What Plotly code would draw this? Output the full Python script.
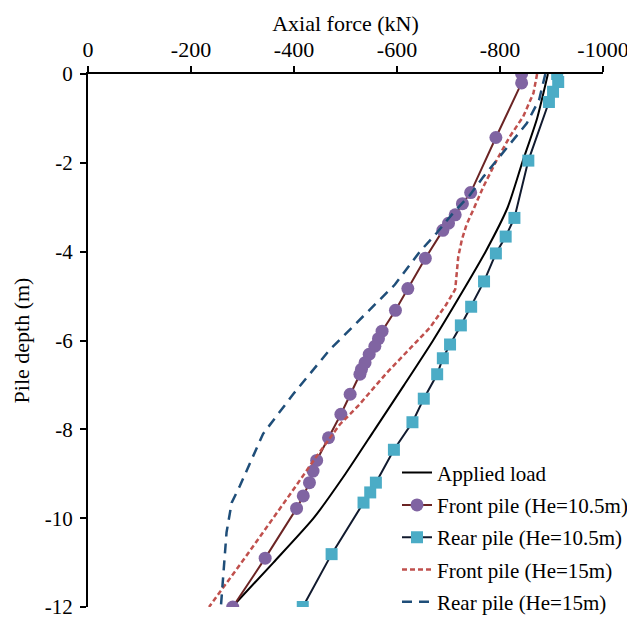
import plotly.graph_objects as go

# ---------------- data ----------------
applied_depth = [0, -1, -2, -3, -4, -5, -6, -7, -8, -9, -10, -11, -12]
applied_force = [-893, -872, -843, -815, -772, -722, -670, -614, -557, -500, -438, -360, -280]

front105_depth = [0, -0.2, -1.43, -2.67, -2.92, -3.17, -3.36, -3.52, -4.15, -4.83, -5.32, -5.79,
                  -5.96, -6.13, -6.31, -6.5, -6.65, -6.76, -7.21, -7.66, -8.19, -8.70, -8.94,
                  -9.20, -9.50, -9.78, -10.9, -12]
front105_force = [-842, -842, -792, -743, -727, -713, -700, -689, -655, -621, -597, -571,
                  -564, -557, -546, -538, -531, -528, -509, -491, -467, -444, -437,
                  -430, -418, -405, -344, -281]

rear105_depth = [0, -0.18, -0.4, -0.63, -1.95, -3.24, -3.66, -4.04, -4.67, -5.24, -5.66, -6.09,
                 -6.40, -6.76, -7.31, -7.84, -8.46, -9.20, -9.42, -9.65, -10.81, -12]
rear105_force = [-911, -913, -903, -895, -855, -828, -811, -792, -769, -744, -724, -703,
                 -689, -678, -652, -630, -594, -559, -548, -535, -473, -417]

front15_depth = [0, -0.43, -0.96, -1.41, -1.93, -2.53, -3.06, -3.39, -3.73, -4.11, -4.85, -5.2,
                 -5.71, -6.73, -7.48, -7.89, -8.67, -9.42, -10.92, -12]
front15_force = [-872, -865, -845, -819, -794, -768, -748, -735, -726, -719, -713, -695,
                 -664, -580, -524, -489, -440, -395, -303, -235]

rear15_depth = [0, -0.58, -1.11, -1.48, -1.86, -2.31, -2.72, -3.13, -3.58, -3.99, -4.74, -5.38,
                -6.2, -7.2, -8.1, -9.27, -9.65, -10.32, -11.74, -12]
rear15_force = [-888, -876, -852, -826, -800, -768, -742, -709, -677, -645, -596, -540,
                -470, -399, -340, -295, -279, -269, -260, -258]

x_tick_vals = [0, -200, -400, -600, -800, -1000]
x_tick_text = ["0", "-200", "-400", "-600", "-800", "-1000"]
y_tick_vals = [0, -2, -4, -6, -8, -10, -12]
y_tick_text = ["0", "-2", "-4", "-6", "-8", "-10", "-12"]

names = ["Applied load", "Front pile (He=10.5m)", "Rear pile (He=10.5m)",
         "Front pile (He=15m)", "Rear pile (He=15m)"]

FONT = "Liberation Serif, Times New Roman, serif"

fig = go.Figure()
fig.add_trace(go.Scatter(x=applied_force, y=applied_depth, mode="lines", name=names[0],
                         legendgroup="a", line=dict(color="#000000", width=2, shape="spline",
                                                    smoothing=0.6)))
fig.add_trace(go.Scatter(x=front105_force, y=front105_depth, mode="lines+markers", name=names[1],
                         legendgroup="b", line=dict(color="#6b2424", width=2),
                         marker=dict(symbol="circle", size=13, color="#8064A2")))
fig.add_trace(go.Scatter(x=rear105_force, y=rear105_depth, mode="lines+markers", name=names[2],
                         legendgroup="c", line=dict(color="#111a2e", width=2),
                         marker=dict(symbol="square", size=12, color="#4BACC6")))
fig.add_trace(go.Scatter(x=front15_force, y=front15_depth, mode="lines", name=names[3],
                         legendgroup="d", line=dict(color="#C0504D", width=2.5, dash="5px,3px")))
fig.add_trace(go.Scatter(x=rear15_force, y=rear15_depth, mode="lines", name=names[4],
                         legendgroup="e", line=dict(color="#1F4E79", width=2.5, dash="10px,7px")))

fig.update_layout(
    width=635, height=619,
    margin=dict(l=80, r=40, t=66, b=20, autoexpand=False),
    paper_bgcolor="white", plot_bgcolor="white",
    font=dict(family=FONT, size=22, color="#000000"),
    showlegend=True,
    legend=dict(x=0.60, y=0.29, xanchor="left", yanchor="top",
                bgcolor="rgba(0,0,0,0)", traceorder="grouped", tracegroupgap=2,
                font=dict(family=FONT, size=21, color="#000000")),
    xaxis=dict(range=[0, -1000], side="top", showgrid=False, zeroline=False,
               showline=True, linecolor="#000000", linewidth=2, automargin=False,
               ticks="outside", ticklen=6, tickwidth=1.5, tickcolor="#000000",
               ticklabelstandoff=0,
               tickvals=x_tick_vals, ticktext=x_tick_text,
               title=dict(text="Axial force (kN)", standoff=0,
                          font=dict(family=FONT, size=22))),
    yaxis=dict(range=[-12, 0], showgrid=False, zeroline=False,
               showline=True, linecolor="#000000", linewidth=2, automargin=False,
               ticks="outside", ticklen=6, tickwidth=1.5, tickcolor="#000000",
               ticklabelstandoff=3, tickfont=dict(family=FONT, size=21),
               tickvals=y_tick_vals, ticktext=y_tick_text,
               title=dict(text="Pile depth (m)", standoff=9,
                          font=dict(family=FONT, size=22))),
)

fig.write_html("out.html")
